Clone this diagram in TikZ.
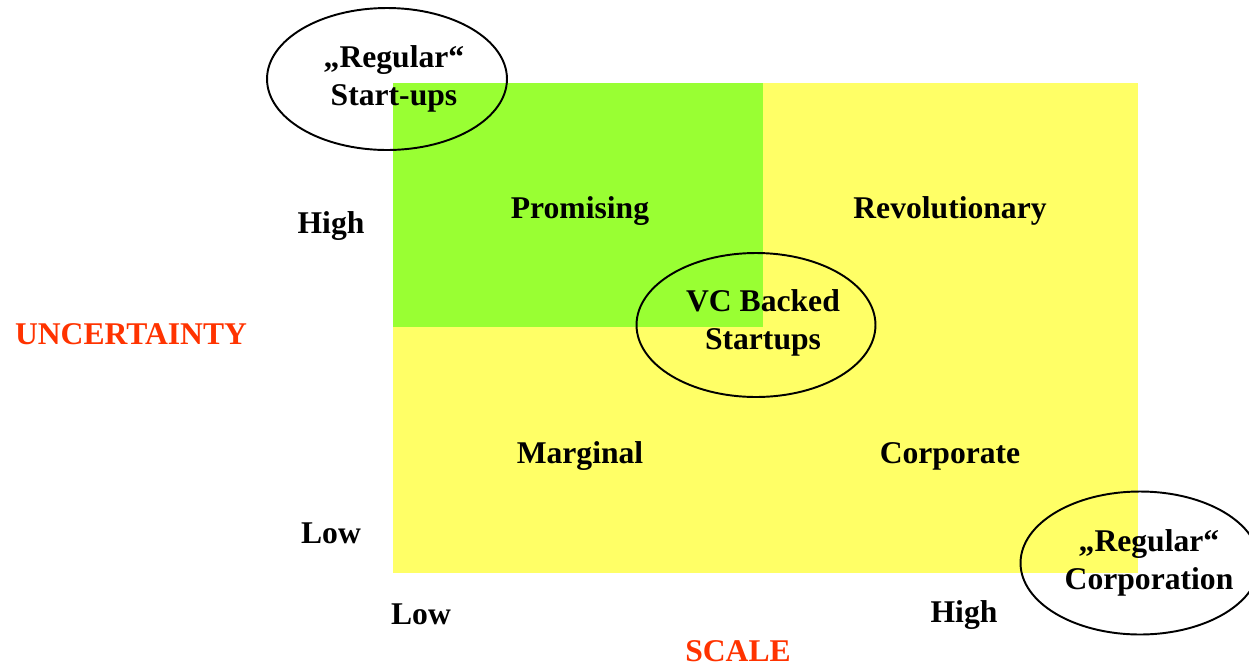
\documentclass[tikz,border=0pt]{standalone}
\usepackage{fontspec}
\setmainfont{Liberation Serif}
\usetikzlibrary{positioning}
\usetikzlibrary{shapes.geometric}
\definecolor{quadgreen}{HTML}{99FF33}
\definecolor{quadyellow}{HTML}{FFFF66}
\definecolor{axisred}{HTML}{FF3300}

\begin{document}
\begin{tikzpicture}[x=0.02cm,y=-0.02cm,
 lbl/.style={font=\fontsize{18}{22}\selectfont\bfseries,align=center,inner sep=0pt},
 axislbl/.style={lbl,text=axisred},
 oval/.style={ellipse,draw=black,line width=1.1pt,inner sep=0pt}]
 \useasboundingbox (0,0) rectangle (1249,667);
 \clip (0,0) rectangle (1249,667);
 \fill[quadyellow](393,83) rectangle (1138,573);
 \fill[quadgreen](393,83) rectangle (763,327);
 \node[oval,minimum width=4.8cm,minimum height=2.84cm] (startoval) at (387,79) {};
 \node[oval,minimum width=4.78cm,minimum height=2.88cm] (vcoval) at (756,325) {};
 \node[oval,minimum width=4.78cm,minimum height=2.86cm] (corpoval) at (1140,563) {};
 \node[lbl] (startups) at (394,79) {„Regular“\\Start-ups};
 \node[lbl] (vc) at (763,323) {VC Backed\\Startups};
 \node[lbl] (corporation) at (1149,563) {„Regular“\\Corporation};
 \node[lbl] (promising) at (580,211) {Promising};
 \node[lbl] (revolutionary) at (950,211) {Revolutionary};
 \node[lbl] (marginal) at (580,456) {Marginal};
 \node[lbl] (corporate) at (950,456) {Corporate};
 \node[lbl] (uhigh) at (331,226) {High};
 \node[lbl] (ulow) at (331,533) {Low};
 \node[axislbl] (uncertainty) at (131,334) {UNCERTAINTY};
 \node[lbl] (slow) at (421,614) {Low};
 \node[lbl] (shigh) at (964,615) {High};
 \node[axislbl] (scale) at (738,651) {SCALE};
\end{tikzpicture}
\end{document}
